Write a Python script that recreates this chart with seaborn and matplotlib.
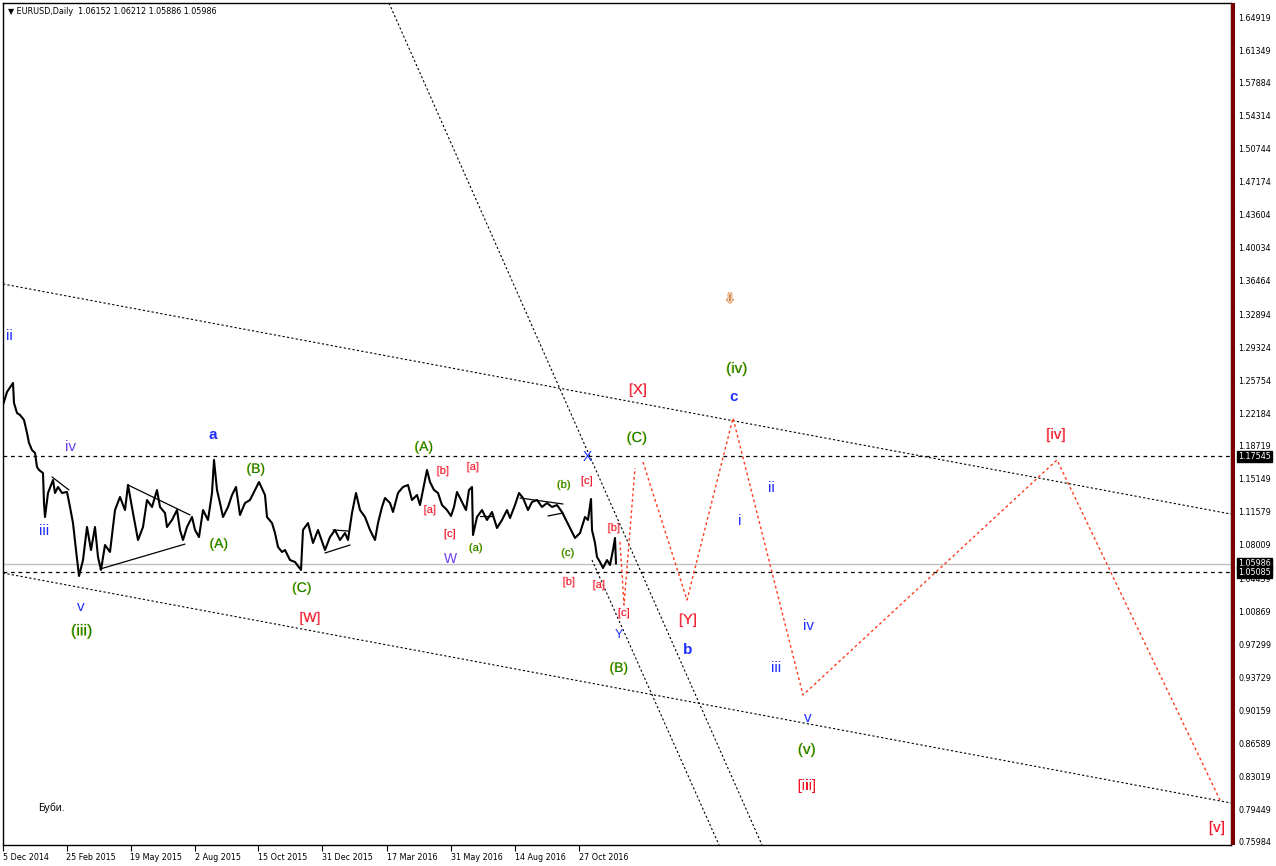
import matplotlib
matplotlib.use("Agg")
import matplotlib.pyplot as plt
import matplotlib.patheffects as pe
from matplotlib.patches import Rectangle
import seaborn as sns
import pandas as pd

# ---------------- data ----------------
# price path (bar index from 5 Dec 2014, approximate closes)
bars = [0, 4, 10, 11, 14, 17, 21, 24, 26, 29, 32, 34, 36, 40, 41, 42, 45, 50, 52, 55,
        59, 64, 67, 70, 73, 76, 80, 84, 88, 92, 95, 98, 102, 107, 112, 117, 122, 125, 130, 135,
        140, 144, 149, 154, 157, 162, 164, 169, 174, 177, 180, 184, 189, 192, 196, 200, 205, 209, 211, 214,
        217, 220, 225, 229, 233, 237, 242, 247, 252, 256, 262, 264, 269, 272, 275, 279, 282, 287, 292, 298,
        300, 305, 310, 315, 322, 327, 332, 337, 342, 345, 349, 353, 357, 362, 367, 372, 375, 379, 382, 387,
        390, 395, 400, 405, 409, 414, 417, 420, 424, 427, 431, 435, 439, 444, 448, 451, 454, 459, 463, 466,
        469, 470, 474, 479, 484, 489, 494, 499, 504, 507, 512, 516, 520, 525, 529, 534, 539, 544, 549, 554,
        559, 563, 567, 572, 577, 582, 585, 588, 589, 592, 594, 597, 600, 604, 607, 610, 612, 613]
close = [1.2310, 1.2450, 1.2547, 1.2331, 1.2223, 1.2202, 1.2148, 1.2008, 1.1900, 1.1824, 1.1792, 1.1641, 1.1609, 1.1576, 1.1253, 1.1102, 1.1361, 1.1501, 1.1361, 1.1426,
         1.1361, 1.1372, 1.1210, 1.1037, 1.0746, 1.0466, 1.0638, 1.0994, 1.0746, 1.0994, 1.0671, 1.0531, 1.0800, 1.0725, 1.1177, 1.1318, 1.1177, 1.1447, 1.1145, 1.0854,
         1.0994, 1.1285, 1.1210, 1.1393, 1.1210, 1.1145, 1.0994, 1.1070, 1.1177, 1.0962, 1.0854, 1.0994, 1.1102, 1.0962, 1.0886, 1.1177, 1.1070, 1.1361, 1.1717, 1.1393,
         1.1253, 1.1102, 1.1210, 1.1339, 1.1426, 1.1124, 1.1253, 1.1285, 1.1393, 1.1479, 1.1339, 1.1102, 1.1037, 1.0929, 1.0779, 1.0725, 1.0746, 1.0638, 1.0617, 1.0531,
         1.0962, 1.1037, 1.0822, 1.0962, 1.0746, 1.0886, 1.0962, 1.0854, 1.0929, 1.0854, 1.1145, 1.1361, 1.1177, 1.1102, 1.0962, 1.0854, 1.1037, 1.1210, 1.1307, 1.1253,
         1.1156, 1.1361, 1.1426, 1.1447, 1.1285, 1.1339, 1.1231, 1.1393, 1.1609, 1.1479, 1.1393, 1.1361, 1.1231, 1.1177, 1.1113, 1.1210, 1.1372, 1.1264, 1.1177, 1.1393,
         1.1426, 1.0908, 1.1102, 1.1177, 1.1070, 1.1156, 1.0983, 1.1070, 1.1177, 1.1091, 1.1231, 1.1361, 1.1307, 1.1177, 1.1264, 1.1285, 1.1210, 1.1253, 1.1210, 1.1231,
         1.1156, 1.1070, 1.0983, 1.0876, 1.0929, 1.1102, 1.1070, 1.1296, 1.0962, 1.0822, 1.0671, 1.0617, 1.0552, 1.0638, 1.0585, 1.0746, 1.0876, 1.0599]

# horizontal levels
level_upper = 1.17545
level_lower = 1.05085
last_price = 1.05986

# trend / channel lines: (bar start, bar end), (price start, price end)
chan_upper_x = [0, 1228]
chan_upper_y = [1.3614, 1.1134]
chan_lower_x = [0, 1228]
chan_lower_y = [1.0498, 0.8019]
steep1_x = [386, 759]
steep1_y = [1.6643, 0.7566]
steep2_x = [589, 716]
steep2_y = [1.0638, 0.7566]

# forecast paths (red dotted)
proj_a_x = [617, 621, 632]
proj_a_y = [1.0833, 1.0153, 1.1630]
proj_b_x = [640, 684, 730, 800, 1054, 1217]
proj_b_y = [1.1695, 1.0207, 1.2169, 0.9183, 1.1717, 0.8051]

# small drawn triangles (solid)
tri_x = [[49, 66], [97, 182], [125, 187], [322, 347], [330, 345], [477, 490], [517, 560], [545, 560]]
tri_y = [[1.1534, 1.1393], [1.0541, 1.0810], [1.1447, 1.1124], [1.0714, 1.0800], [1.0962, 1.0951], [1.1113, 1.1113], [1.1307, 1.1242], [1.1113, 1.1145]]

# axis labels
ytick_vals = [1.64919, 1.61349, 1.57884, 1.54314, 1.50744, 1.47174, 1.43604, 1.40034, 1.36464,
              1.32894, 1.29324, 1.25754, 1.22184, 1.18719, 1.15149, 1.11579, 1.08009, 1.04439,
              1.00869, 0.97299, 0.93729, 0.90159, 0.86589, 0.83019, 0.79449, 0.75984]
xtick_pos = [0, 63.5, 127.5, 192, 255, 319, 384, 448, 512, 576]
xtick_lab = ["5 Dec 2014", "25 Feb 2015", "19 May 2015", "2 Aug 2015", "15 Oct 2015",
             "31 Dec 2015", "17 Mar 2016", "31 May 2016", "14 Aug 2016", "27 Oct 2016"]

# ---------------- figure ----------------
sns.set_theme(style="white")
plt.rcParams["font.family"] = ["DejaVu Sans"]

W, H = 1276, 866
fig = plt.figure(figsize=(W / 100, H / 100), dpi=100)
L, R, T, B = 3, 1231, 3, 845
ax = fig.add_axes([L / W, (H - B) / H, (R - L) / W, (B - T) / H])

Y0, K = 1.66758, 0.0010781  # pixel->price helper for annotation placement
ax.set_xlim(0, R - L)
ax.set_ylim(Y0 - K * B, Y0 - K * T)


def P(x, y):
    return x - L, Y0 - K * y


dot = (0, (2, 2))
ax.axhline(level_upper, color="black", lw=0.9, ls=(0, (3, 3)), zorder=2)
ax.axhline(level_lower, color="black", lw=0.9, ls=(0, (3, 3)), zorder=2)
ax.axhline(last_price, color="#c0c0c0", lw=1, zorder=1)

for xs, ys in [(chan_upper_x, chan_upper_y), (chan_lower_x, chan_lower_y),
               (steep1_x, steep1_y), (steep2_x, steep2_y)]:
    ax.plot(xs, ys, color="black", lw=0.8, ls=dot, zorder=2)

for xs, ys in zip(tri_x, tri_y):
    ax.plot(xs, ys, color="black", lw=0.9, zorder=3)

df = pd.DataFrame({"bar": bars, "close": close})
sns.lineplot(data=df, x="bar", y="close", color="black", lw=1.5, ax=ax, zorder=4)

ax.plot(proj_a_x, proj_a_y, color="#ff3b1f", lw=1, ls=dot, zorder=3)
ax.plot(proj_b_x, proj_b_y, color="#ff3b1f", lw=1, ls=dot, zorder=3)

# ---------------- wave labels ----------------
BLUE = "#1f2fff"
PURP = "#6a3de8"
GREEN = "#0a7d14"
RED = "#f0142a"
gshadow = [pe.SimplePatchShadow(offset=(-0.5, 0), shadow_rgbFace="#d9bf00", alpha=1), pe.Normal()]
rshadow = [pe.SimplePatchShadow(offset=(-0.5, 0), shadow_rgbFace="#ffb0b0", alpha=1), pe.Normal()]

labels = [
    ("ii", 9, 336, BLUE, 11, False), ("iv", 70, 447, PURP, 11, False), ("iii", 44, 531, BLUE, 11, False),
    ("v", 81, 607, BLUE, 11, False), ("(iii)", 82, 631, GREEN, 11.5, False), ("a", 213, 435, BLUE, 11, True),
    ("(B)", 256, 469, GREEN, 10, False), ("(A)", 219, 544, GREEN, 10, False), ("(C)", 302, 588, GREEN, 10, False),
    ("[W]", 310, 618, RED, 10, False), ("(A)", 424, 447, GREEN, 10, False), ("[b]", 443, 471, RED, 8, False),
    ("[a]", 473, 467, RED, 8, False), ("[a]", 430, 510, RED, 8, False), ("[c]", 450, 534, RED, 8, False),
    ("W", 450, 559, PURP, 10, False), ("(a)", 476, 548, GREEN, 8, False), ("(b)", 564, 485, GREEN, 8, False),
    ("X", 587, 457, BLUE, 10, False), ("[c]", 587, 481, RED, 8, False), ("(c)", 568, 553, GREEN, 8, False),
    ("[b]", 569, 582, RED, 8, False), ("[a]", 599, 585, RED, 8, False), ("[b]", 614, 528, RED, 8, False),
    ("[c]", 624, 613, RED, 8, False), ("Y", 619, 635, BLUE, 9, False), ("(B)", 619, 668, GREEN, 10, False),
    ("(C)", 637, 438, GREEN, 10.5, False), ("[X]", 638, 390, RED, 10.5, False), ("(iv)", 737, 369, GREEN, 11, False),
    ("c", 734, 397, BLUE, 11, True), ("[Y]", 688, 620, RED, 10.5, False), ("b", 688, 650, BLUE, 11, True),
    ("i", 740, 521, BLUE, 11, False), ("ii", 771, 488, BLUE, 11, False), ("iii", 776, 668, BLUE, 11, False),
    ("iv", 808, 626, BLUE, 11, False), ("v", 808, 718, BLUE, 11, False), ("(v)", 807, 750, GREEN, 11, False),
    ("[iii]", 807, 786, RED, 11, False), ("[iv]", 1056, 435, RED, 11, False), ("[v]", 1217, 828, RED, 11, False),
]
for s, x, y, c, fs, bold in labels:
    eff = gshadow if c == GREEN else (rshadow if c == RED else None)
    ax.text(*P(x, y), s, color=c, fontsize=fs, ha="center", va="center",
            family=["Liberation Sans", "DejaVu Sans"], fontweight="bold" if bold else "normal",
            path_effects=eff, zorder=6)

ax.text(*P(51, 808), "Буби.", color="black", fontsize=7.5, ha="center", va="center",
        family=["Liberation Sans", "DejaVu Sans"], zorder=6)
ax.text(*P(730, 299), "⇩", color="white", fontsize=9, ha="center", va="center", zorder=6,
        path_effects=[pe.withStroke(linewidth=1.2, foreground="#c85a00"), pe.Normal()])

# ---------------- axes styling ----------------
for sp in ax.spines.values():
    sp.set_color("black")
    sp.set_linewidth(1)

ax.set_yticks(ytick_vals)
ax.set_yticklabels([f"{v:.5f}" for v in ytick_vals])
ax.yaxis.tick_right()
ax.tick_params(axis="y", direction="out", length=2, width=0.8, pad=3.5, labelsize=5.8,
               colors="black", right=True, left=False)
ax.set_xticks(xtick_pos)
ax.set_xticklabels(xtick_lab, ha="left")
ax.tick_params(axis="x", direction="out", length=4, width=0.8, pad=1.5, labelsize=5.8,
               colors="black", bottom=True)
for lab in ax.get_xticklabels():
    lab.set_horizontalalignment("left")
ax.set_xlabel("")
ax.set_ylabel("")
ax.grid(False)

# highlighted price labels on the right scale
for v in (level_upper, last_price, level_lower):
    ax.text(1.0 + 7 / (R - L), v, f"{v:.5f}", transform=ax.get_yaxis_transform(), color="white",
            fontsize=5.8, ha="left", va="center", zorder=10,
            bbox=dict(boxstyle="square,pad=0.15", fc="black", ec="black"),
            clip_on=False)

# maroon bar at price scale edge
fig.patches.append(Rectangle((R / W, (H - B) / H), 4 / W, (B - T) / H, transform=fig.transFigure,
                             facecolor="#7a0000", edgecolor="none", zorder=5))

fig.text(8 / W, 1 - 11 / H, "▼ EURUSD,Daily  1.06152 1.06212 1.05886 1.05986", fontsize=5.8,
         ha="left", va="center", color="black")

fig.savefig("out.png", dpi=100)
